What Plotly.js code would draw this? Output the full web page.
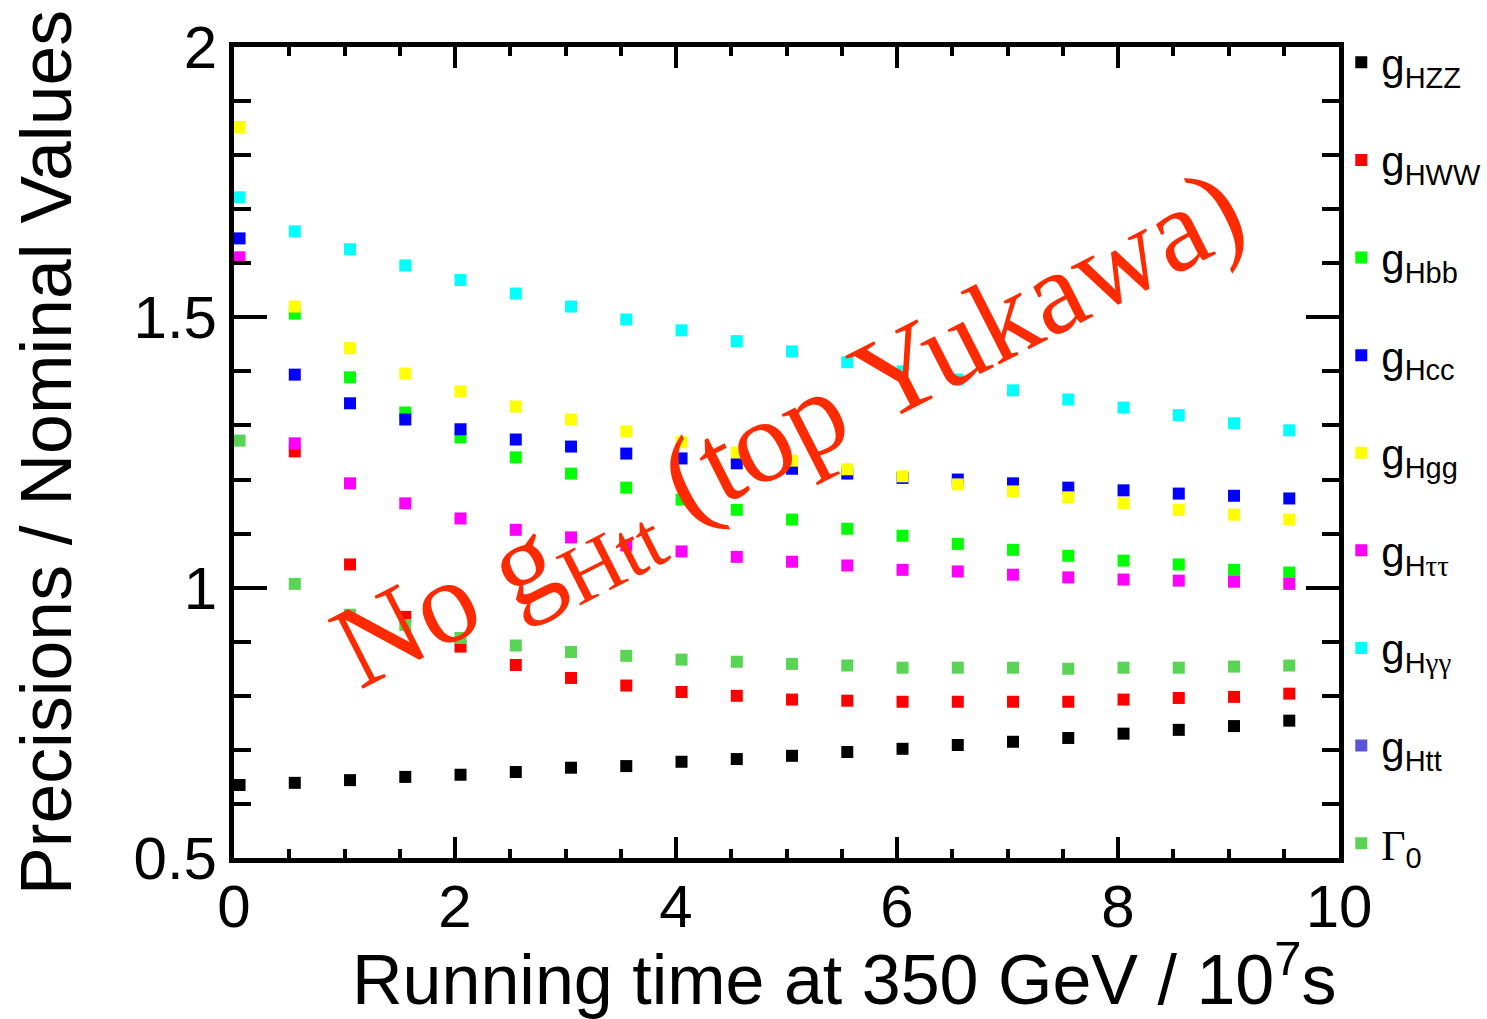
<!DOCTYPE html>
<html>
<head>
<meta charset="utf-8">
<script src="https://cdn.plot.ly/plotly-3.0.1.min.js"></script>
<style>html,body{margin:0;padding:0;background:#fff;}#chart{width:1487px;height:1019px;}</style>
</head>
<body>
<div id="chart"></div>
<script>
// Running time at 350 GeV (units of 10^7 s)
const runTime = [0.05,0.55,1.05,1.55,2.05,2.55,3.05,3.55,4.05,4.55,5.05,5.55,6.05,6.55,7.05,7.55,8.05,8.55,9.05,9.55];

const gHZZ = [0.635,0.639,0.644,0.650,0.654,0.659,0.667,0.670,0.678,0.683,0.689,0.696,0.702,0.709,0.715,0.722,0.730,0.737,0.744,0.754];
const gHWW = [null,1.252,1.043,0.946,0.891,0.857,0.833,0.819,0.807,0.800,0.793,0.791,0.789,0.789,0.789,0.789,0.793,0.796,0.798,0.804];
const gHbb = [null,1.507,1.389,1.324,1.278,1.241,1.211,1.185,1.163,1.144,1.126,1.109,1.096,1.081,1.070,1.059,1.050,1.043,1.033,1.028];
const gHcc = [1.646,1.394,1.341,1.311,1.293,1.274,1.261,1.248,1.239,1.230,1.220,1.211,1.203,1.200,1.193,1.185,1.180,1.174,1.170,1.165];
const gHgg = [1.852,1.520,1.443,1.396,1.363,1.335,1.311,1.289,1.269,1.250,1.235,1.219,1.206,1.191,1.178,1.167,1.156,1.144,1.135,1.126];
const gHtautau = [1.611,1.267,1.193,1.156,1.128,1.107,1.093,1.078,1.067,1.057,1.048,1.041,1.033,1.030,1.024,1.019,1.015,1.013,1.011,1.007];
const gHgamgam = [1.722,1.659,1.626,1.596,1.569,1.544,1.520,1.496,1.476,1.456,1.437,1.417,1.400,1.385,1.365,1.348,1.333,1.319,1.304,1.291];
const gHtt = [null,null,null,null,null,null,null,null,null,null,null,null,null,null,null,null,null,null,null,null];
const Gamma0 = [1.272,1.007,0.950,0.931,0.907,0.893,0.881,0.874,0.867,0.863,0.859,0.856,0.852,0.852,0.852,0.850,0.852,0.852,0.854,0.856];

const SUB = "<span style='font-size:29px'>";
const SERIF = "<span style='font-family:Liberation Serif'>";
const seriesNames = [
  "g<sub>" + SUB + "HZZ</span></sub>",
  "g<sub>" + SUB + "HWW</span></sub>",
  "g<sub>" + SUB + "Hbb</span></sub>",
  "g<sub>" + SUB + "Hcc</span></sub>",
  "g<sub>" + SUB + "Hgg</span></sub>",
  "g<sub>" + SUB + "H</span>" + "<span style='font-family:Liberation Serif;font-size:29px'>ττ</span></sub>",
  "g<sub>" + SUB + "H</span>" + "<span style='font-family:Liberation Serif;font-size:29px'>γγ</span></sub>",
  "g<sub>" + SUB + "Htt</span></sub>",
  SERIF + "Γ</span><sub>" + SUB + "0</span></sub>"
];
const seriesValues = [gHZZ, gHWW, gHbb, gHcc, gHgg, gHtautau, gHgamgam, gHtt, Gamma0];
const seriesColors = ["#000000","#ff0000","#00ff00","#0000ff","#ffff00","#ff00ff","#00ffff","#5954d8","#59d454"];

const traces = seriesValues.map((vals, i) => ({
  type: "scatter",
  mode: "markers",
  x: runTime,
  y: vals,
  name: seriesNames[i],
  legendgroup: "g" + i,
  marker: {symbol: "square", size: 12, color: seriesColors[i], line: {width: 0}},
  hoverinfo: "x+y"
}));

const axisFont = {family: "Liberation Sans, Arial, sans-serif", size: 60, color: "#000"};
const titleFont = {family: "Liberation Sans, Arial, sans-serif", size: 70, color: "#000"};

const layout = {
  width: 1487,
  height: 1019,
  margin: {l: 234, r: 148, t: 47, b: 161, autoexpand: false},
  paper_bgcolor: "#fff",
  plot_bgcolor: "#fff",
  showlegend: true,
  legend: {
    xref: "container", yref: "container",
    x: 0.9020, xanchor: "left", y: 0.972, yanchor: "top",
    font: {family: "Liberation Sans, Arial, sans-serif", size: 42, color: "#000"},
    tracegroupgap: 40,
    maxheight: 1019,
    bgcolor: "rgba(0,0,0,0)",
    itemsizing: "trace"
  },
  xaxis: {
    range: [0, 10], tick0: 0, dtick: 2,
    ticks: "inside", ticklen: 21, tickwidth: 4, tickcolor: "#000",
    showline: true, linewidth: 5, linecolor: "#000", mirror: "allticks",
    showgrid: false, zeroline: false,
    tickfont: axisFont,
    ticklabelstandoff: -8,
    minor: {dtick: 0.5, ticks: "inside", ticklen: 9, tickwidth: 4, tickcolor: "#000", showgrid: false}
  },
  yaxis: {
    range: [0.5, 2], tick0: 0.5, dtick: 0.5,
    ticks: "inside", ticklen: 33, tickwidth: 4, tickcolor: "#000",
    showline: true, linewidth: 5, linecolor: "#000", mirror: "allticks",
    showgrid: false, zeroline: false,
    tickfont: axisFont,
    title: {text: "Precisions / Nominal Values", font: {family: "Liberation Sans, Arial, sans-serif", size: 71.5, color: "#000"}, standoff: 40},
    minor: {dtick: 0.1, ticks: "inside", ticklen: 17, tickwidth: 4, tickcolor: "#000", showgrid: false}
  },
  annotations: [
    {
      xref: "paper", yref: "paper", x: 1.0, y: -0.087, xanchor: "right", yanchor: "top",
      text: "Running time at 350 GeV / 10<sup>7</sup>s", showarrow: false,
      font: titleFont
    },
    {
      xref: "paper", yref: "paper", x: 0.505, y: 0.521, xanchor: "center", yanchor: "middle",
      text: "No g<sub>Htt</sub> (top Yukawa)", showarrow: false, textangle: -27,
      font: {family: "Liberation Serif, Times New Roman, serif", size: 118, color: "#ff2a00"}
    }
  ]
};

Plotly.newPlot("chart", traces, layout, {staticPlot: true, displayModeBar: false});
</script>
</body>
</html>
